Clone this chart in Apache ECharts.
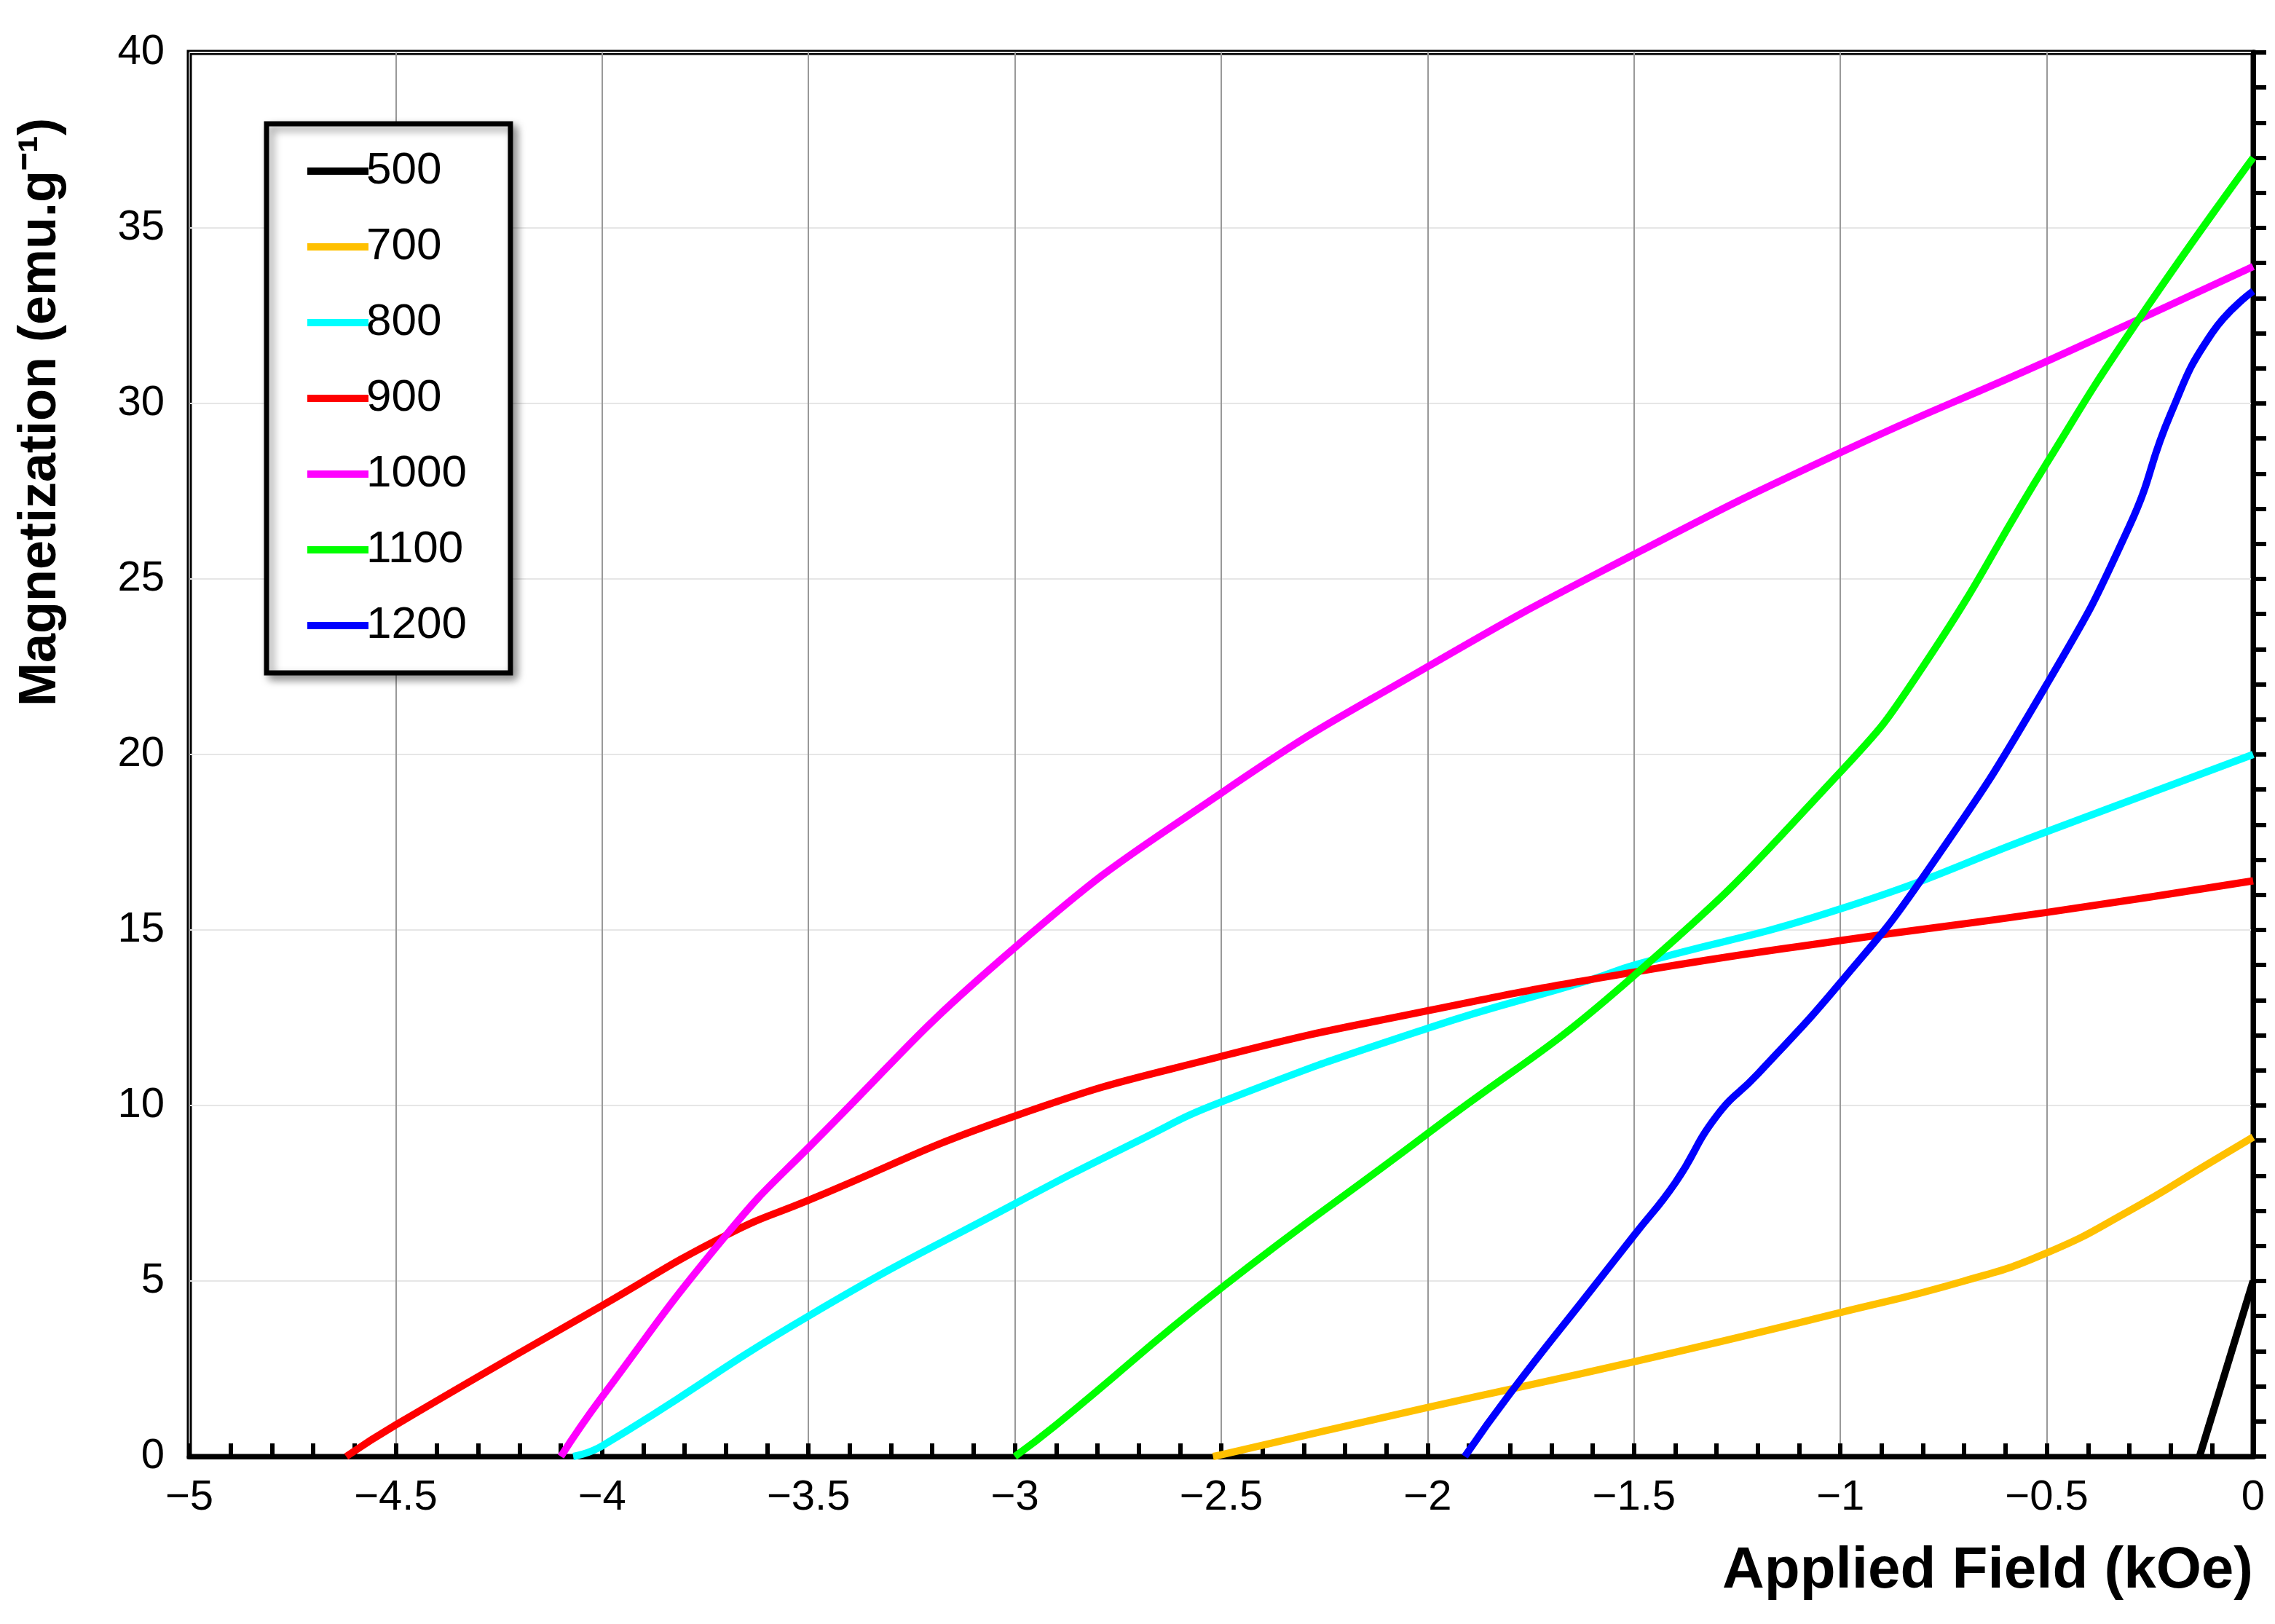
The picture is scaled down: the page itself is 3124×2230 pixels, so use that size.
<!DOCTYPE html>
<html><head><meta charset="utf-8">
<script src="https://cdn.jsdelivr.net/npm/echarts@6/dist/echarts.min.js"></script>
<style>html,body{margin:0;padding:0;background:#fff;overflow:hidden}#c{width:3124px;height:2230px}</style>
</head><body><div id="c"></div>
<script>
const names = ['500','700','800','900','1000','1100','1200'];
const colors = ['#000000','#FFC000','#00FFFF','#FF0000','#FF00FF','#00FF00','#0000FF'];
const s500 = [[-0.13,0],[0,5]];
const s700 = [[-2.52,0],[-2.5,0.05],[-2,1.4],[-1.5,2.7],[-1,4.1],[-0.7,5.0],[-0.5,5.8],[-0.3,7.0],[-0.1,8.4],[0,9.1]];
const s800 = [[-4.07,0],[-4,0.3],[-3.5,4.0],[-3,7.2],[-2.7,9],[-2.5,10.1],[-2,12.2],[-1.6,13.6],[-1.5,14],[-1,15.6],[-0.5,17.8],[0,20]];
const s900 = [[-4.62,0],[-4.5,0.9],[-4,4.3],[-3.7,6.3],[-3.5,7.3],[-3,9.7],[-2.5,11.4],[-2,12.7],[-1.5,13.8],[-1,14.7],[-0.5,15.5],[0,16.4]];
const s1000 = [[-4.1,0],[-4,1.7],[-3.7,6.3],[-3.5,8.8],[-3,14.5],[-2.5,18.9],[-2,22.5],[-1.5,25.7],[-1,28.6],[-0.5,31.2],[0,33.9]];
const s1100 = [[-3,0],[-2.9,0.9],[-2.5,4.8],[-2,9.2],[-1.5,13.7],[-1,19.5],[-0.8,22.5],[-0.5,28.3],[-0.3,32],[0,37]];
const s1200 = [[-1.91,0],[-1.8,1.8],[-1.6,4.8],[-1.5,6.3],[-1.4,7.8],[-1.3,9.7],[-1.2,10.9],[-1,13.5],[-0.8,16.5],[-0.5,22],[-0.3,26.5],[-0.2,29.7],[-0.1,32],[0,33.2]];
const allData = [s500,s700,s800,s900,s1000,s1100,s1200];
const fmt = v => (v < 0 ? '\u2212' + Math.abs(v) : String(v));
const chart = echarts.init(document.getElementById('c'));
chart.setOption({
  animation:false,
  grid:{left:260,right:30,top:72,bottom:230,show:true,borderColor:'#000',borderWidth:7},
  xAxis:{type:'value',min:-5,max:0,interval:0.5,
    axisLine:{onZero:false,lineStyle:{color:'#000',width:7}},
    axisTick:{inside:true,length:18,lineStyle:{width:6,color:'#000'}},
    minorTick:{show:true,splitNumber:5,length:18,lineStyle:{width:6,color:'#000'}},
    axisLabel:{formatter:fmt,fontSize:58,color:'#000',margin:28,fontFamily:'Liberation Sans'},
    splitLine:{show:true,lineStyle:{color:'#999',width:2}}},
  yAxis:{type:'value',min:0,max:40,interval:5,
    axisLine:{lineStyle:{color:'#000',width:7}},
    axisTick:{inside:true,length:18,lineStyle:{width:6,color:'#000'}},
    minorTick:{show:true,splitNumber:5,length:18,lineStyle:{width:6,color:'#000'}},
    axisLabel:{fontSize:58,color:'#000',margin:34,fontFamily:'Liberation Sans'},
    splitLine:{show:true,lineStyle:{color:'#e6e6e6',width:2}}},
  legend:{orient:'vertical',left:366,top:170,itemWidth:84,itemHeight:10,itemGap:42,
    icon:'rect',padding:[34,60,34,56],borderColor:'#000',borderWidth:7,backgroundColor:'#fff',
    shadowColor:'rgba(0,0,0,0.4)',shadowBlur:12,shadowOffsetX:6,shadowOffsetY:6,
    textStyle:{fontSize:62,color:'#000',padding:[0,0,0,-8],fontFamily:'Liberation Sans Narrow, Liberation Sans'},
    data:names},
  graphic:[
    {type:'text',right:30,top:2118,style:{text:'Applied Field (kOe)',fontSize:80,fontWeight:'bold',fill:'#000',fontFamily:'Liberation Sans'}},
    {type:'text',x:20,y:566,rotation:Math.PI/2,style:{text:'Magnetization (emu.g\u207B\u00B9)',fontSize:72,fontWeight:'bold',fill:'#000',fontFamily:'Liberation Sans',align:'center',verticalAlign:'top'}}
  ],
  series:names.map((n,i)=>({name:n,type:'line',data:allData[i],smooth:true,showSymbol:false,
    lineStyle:{color:colors[i],width:10},itemStyle:{color:colors[i]}}))
});
</script></body></html>
